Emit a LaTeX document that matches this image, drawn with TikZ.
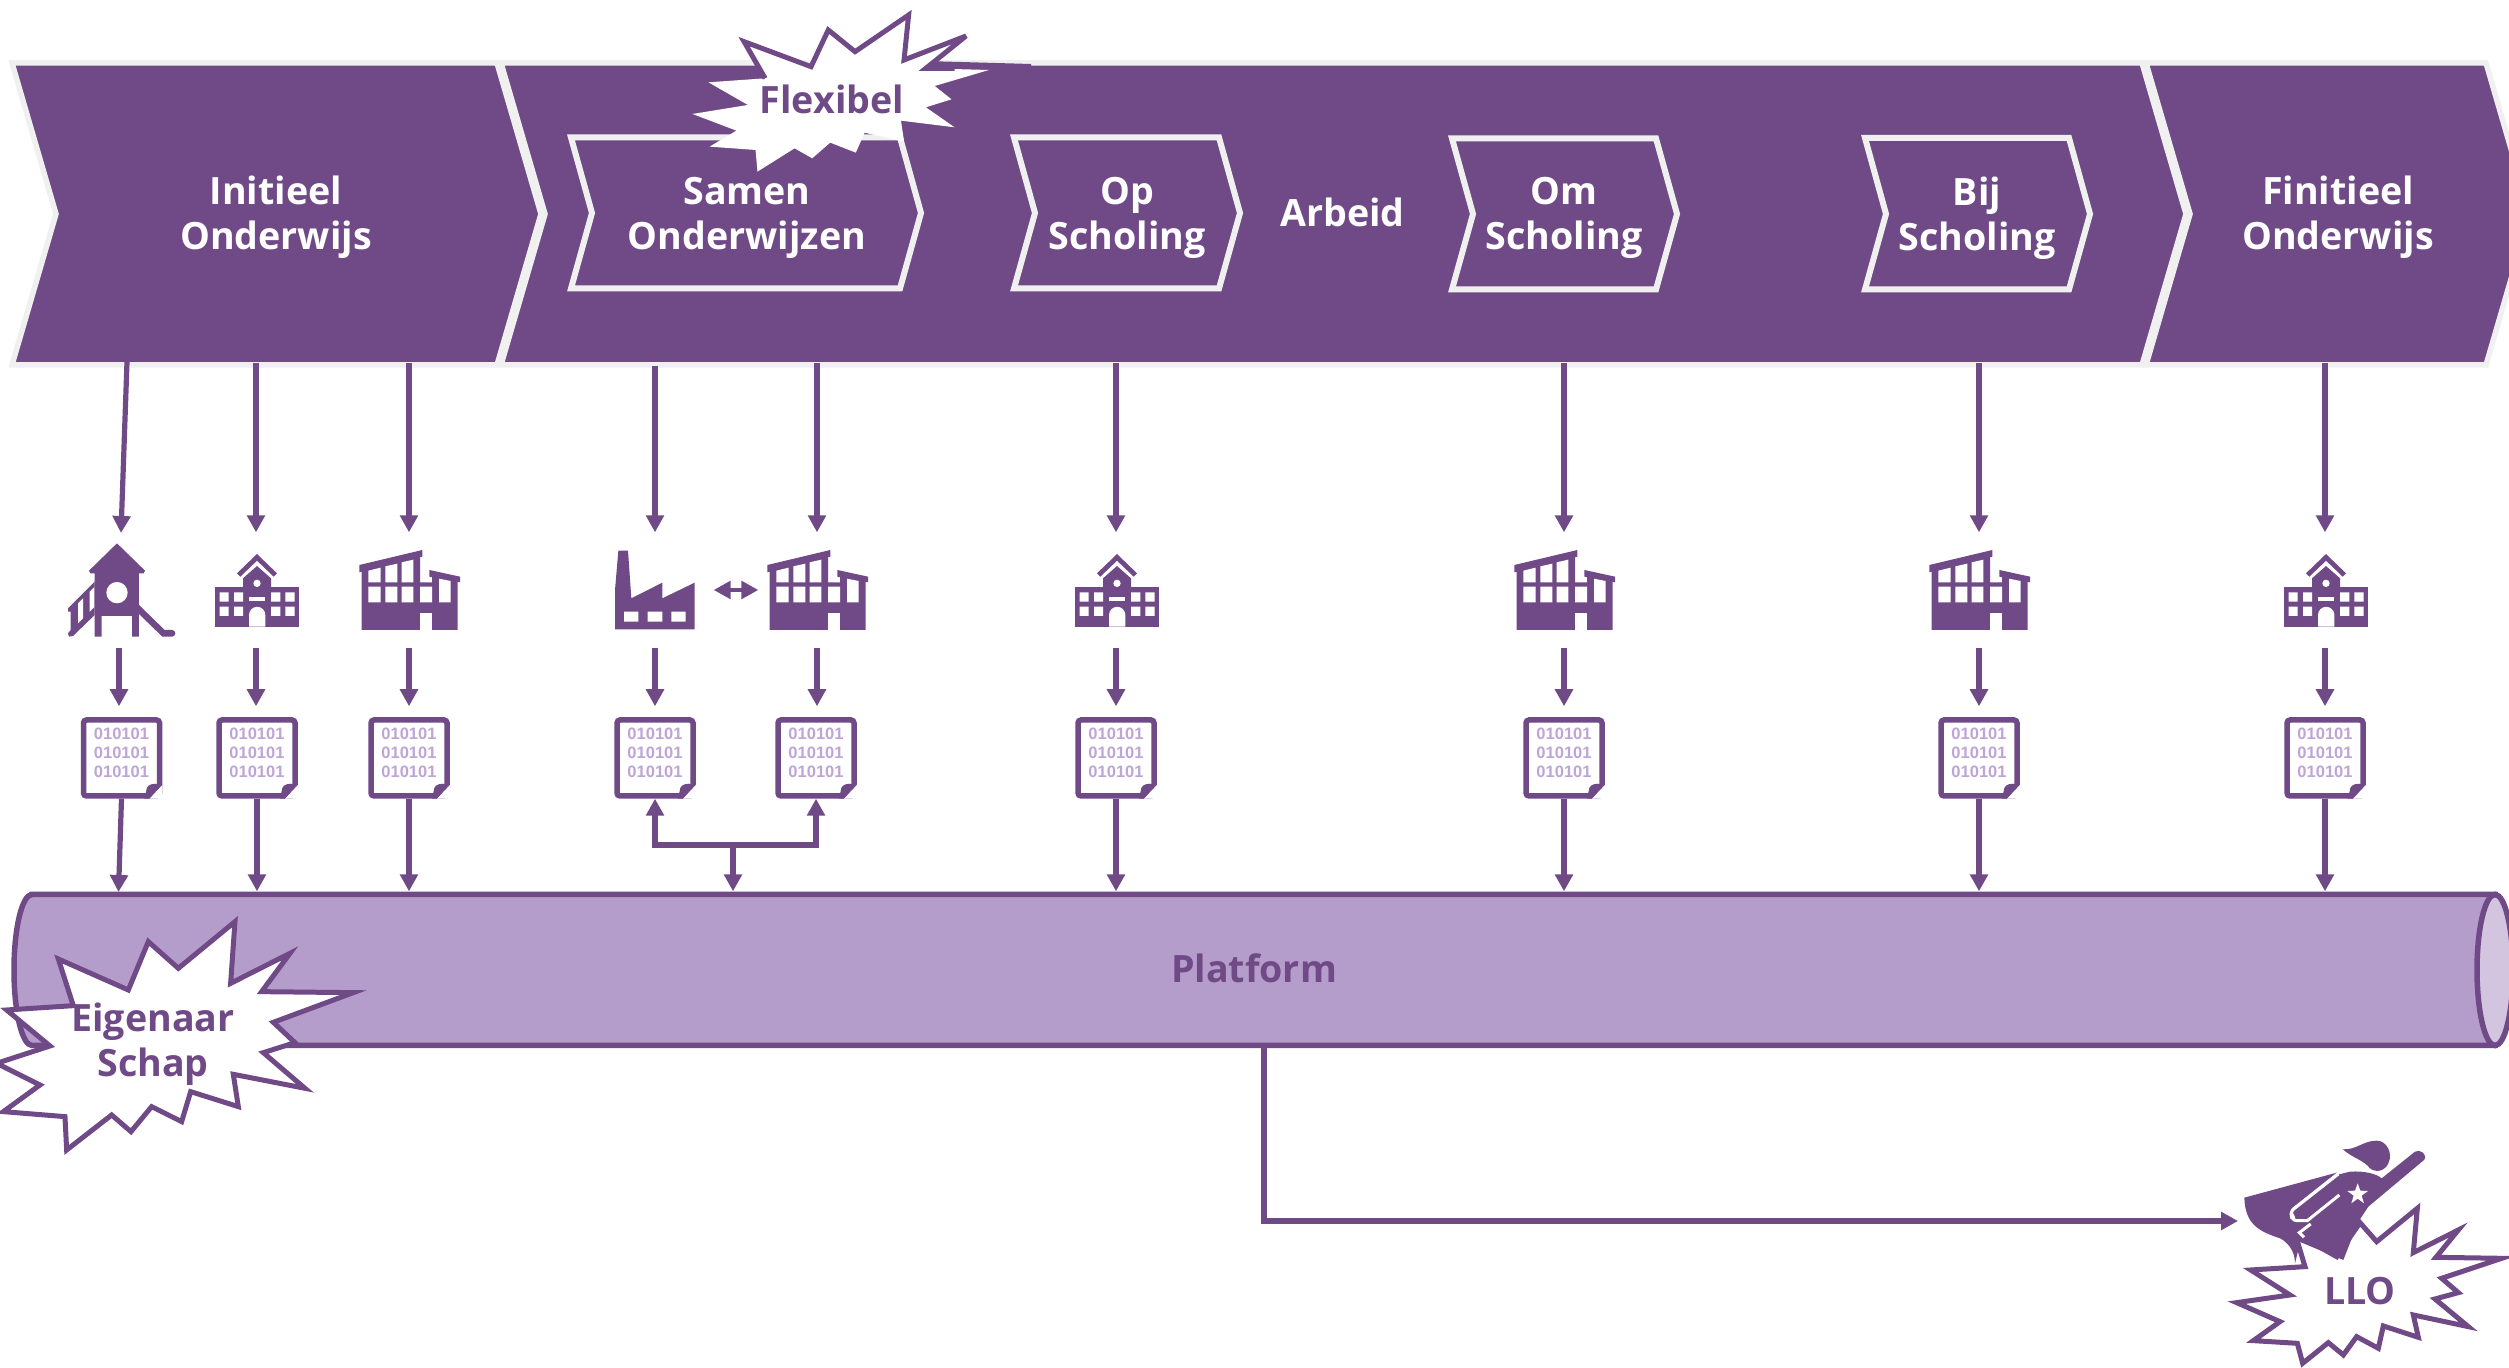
\documentclass[tikz,border=0pt]{standalone}
\usepackage{fontspec}
\setmainfont{Open Sans}
\newfontfamily\bitfont{Liberation Sans}
\usetikzlibrary{positioning,calc,arrows.meta}

\definecolor{paars}{HTML}{704A87}
\definecolor{lila}{HTML}{B59DCB}
\definecolor{lichtlila}{HTML}{D3C5E0}
\definecolor{bitlila}{HTML}{BFA5D6}
\definecolor{rand}{HTML}{F0F0F0}
\newcommand{\bits}{010101\\010101\\010101\\[-0.8mm]}

\begin{document}
\begin{tikzpicture}[x=0.1mm,y=-0.1mm,>={Triangle[length=1.7mm,width=1.75mm]}]
 \useasboundingbox (0,0) rectangle (2509,1368);
 \clip (0,0) rectangle (2509,1368);

\tikzstyle{chevron}=[fill=paars,draw=rand,line width=0.55mm,miter limit=10]
\tikzstyle{deelpijl}=[draw=rand,line width=0.6mm]
\tikzstyle{kop}=[text=white,font=\bfseries\fontsize{10.7}{12.8}\selectfont,align=center,inner sep=0]
\tikzstyle{paarskop}=[kop,text=paars]
\tikzstyle{pijl}=[draw=paars,line width=0.52mm]
\tikzstyle{iconbox}=[minimum width=1.16cm,minimum height=1.14cm,inner sep=0]
\tikzstyle{datafile}=[draw=paars,fill=white,line width=0.55mm,rounded corners=0.3mm,minimum width=7.6mm,minimum height=7.6mm,inner sep=0,text=bitlila,align=center,font=\bitfont\bfseries\fontsize{4.7}{5.45}\selectfont]
\tikzstyle{burst}=[draw=paars,fill=white,line width=0.5mm,line join=miter,miter limit=6]

\tikzset{
 school/.pic={
  \begin{scope}[scale=0.3333,shift={(-647,-180)}]
   \fill[paars] (523,170) rectangle (777,290);
   \fill[paars] (608,172) -- (608,145) -- (650,108) -- (692,145) -- (692,172) -- cycle;
   \fill[paars] (590,130) -- (650,72) -- (710,130) -- (700,140) -- (650,92) -- (600,140) -- cycle;
   \fill[white] (650,160) circle (11);
   \fill[white] (538,187) rectangle (565,215) (581,187) rectangle (608,215) (538,230) rectangle (565,258) (581,230) rectangle (608,258);
   \fill[white] (692,187) rectangle (720,215) (735,187) rectangle (763,215) (692,230) rectangle (720,258) (735,230) rectangle (763,258);
   \fill[white] (627,202) rectangle (675,214);
   \fill[white] (626,290) -- (626,255) arc[start angle=180,end angle=360,radius=24.5] -- (675,290) -- cycle;
  \end{scope}
 },
 campus/.pic={
  \begin{scope}[scale=0.3333,shift={(-1107,-180)}]
   \fill[paars] (965,115) -- (1140,75) -- (1140,157) -- (1176,157) -- (1176,130) -- (1253,148) -- (1253,300) -- (965,300) -- cycle;
   \fill[paars] (958,105) -- (1147,60) -- (1147,80) -- (958,127) -- cycle;
   \fill[paars] (1168,120) -- (1260,140) -- (1260,157) -- (1168,140) -- cycle;
   \fill[white] (985,122) -- (1022,113) -- (1022,157) -- (985,157) -- cycle;
   \fill[white] (1036,109) -- (1072,101) -- (1072,157) -- (1036,157) -- cycle;
   \fill[white] (1085,97) -- (1120,89) -- (1120,157) -- (1085,157) -- cycle;
   \fill[white] (985,170) rectangle (1022,217) (1036,170) rectangle (1072,217) (1085,170) rectangle (1120,217) (1140,170) rectangle (1176,217);
   \fill[white] (1197,146) -- (1232,153) -- (1232,217) -- (1197,217) -- cycle;
   \fill[white] (1140,250) rectangle (1176,300);
  \end{scope}
 },
 fabriek/.pic={
  \begin{scope}[scale=0.3333,shift={(-168,-150)}]
   \fill[paars] (48,268) -- (48,150) -- (58,32) -- (87,32) -- (97,175) -- (190,128) -- (190,175) -- (287,128) -- (287,268) -- cycle;
   \fill[white] (75,215) rectangle (118,245) (146,215) rectangle (190,245) (217,215) rectangle (260,245);
  \end{scope}
 },
 speeltoren/.pic={
  \begin{scope}[scale=0.3333,shift={(-232,-180)}]
   \fill[paars] (232,40) -- (316,122) -- (312,130) -- (298,130) -- (298,258) -- (277,258) -- (277,320) -- (298,320) -- (298,258) -- (186,258) -- (186,320) -- (165,320) -- (165,130) -- (152,130) -- (148,122) -- cycle;
   \fill[paars] (298,225) -- (375,300) -- (398,300) .. controls (410,302) and (410,318) .. (398,320) -- (368,320) -- (298,252) -- cycle;
   \fill[paars] (165,155) -- (165,255) -- (100,318) -- (88,320) -- (85,310) -- (93,300) -- (93,245) -- (85,245) -- (85,235) -- cycle;
   \fill[white] (115,220) -- (130,205) -- (130,265) -- (115,280) -- cycle;
   \fill[white] (150,185) -- (163,172) -- (163,232) -- (150,245) -- cycle;
   \fill[white] (232,188) circle (32);
  \end{scope}
 },
 ezelsoor/.pic={
  \fill[white] (0,0) -- (-13,0) -- (0,-14) -- cycle;
  \fill[paars] (-13,0) -- (0,-14) -- (-7,-15) .. controls (-13,-15) and (-16,-12) .. (-16,-8) -- (-18,0) -- cycle;
 }
}

   %draw banner
    \node (balk) at (1254,214) [minimum width=25.09cm,minimum height=2.96cm] {};
    \draw[chevron] (12,63) -- (497,63) -- (541,214) -- (497,365) -- (12,365) -- (56,214) -- cycle;
    \draw[chevron] (501,63) -- (2142,63) -- (2186,214) -- (2142,365) -- (501,365) -- (545,214) -- cycle;
    \draw[chevron] (2146,63) -- (2486,63) -- (2530,214) -- (2486,365) -- (2146,365) -- (2190,214) -- cycle;
    \fill[paars] (925,66) -- (925,61) -- (1031,64) -- (1031,66) -- cycle;

   %steps in the banner
    \draw[deelpijl] (571,137.5) -- (900,137.5) -- (921,213) -- (900,288.5) -- (571,288.5) -- (592,213) -- cycle;
    \draw[deelpijl] (1014,137.5) -- (1219,137.5) -- (1240,213) -- (1219,288.5) -- (1014,288.5) -- (1035,213) -- cycle;
    \draw[deelpijl] (1452,138.5) -- (1656,138.5) -- (1677,214) -- (1656,289.5) -- (1452,289.5) -- (1473,214) -- cycle;
    \draw[deelpijl] (1865,138) -- (2069,138) -- (2090,214) -- (2069,289.5) -- (1865,289.5) -- (1886,214) -- cycle;

    \node (initieel) at (276,217) [kop] {Initieel\\Onderwijs};
    \node (samen) at (747,218) [kop] {Samen\\Onderwijzen};
    \node (op) at (1127,218) [kop] {Op\\Scholing};
    \node (arbeid) at (1342.5,212.5) [kop] {Arbeid};
    \node (om) at (1564,218) [kop] {Om\\Scholing};
    \node (bij) at (1977,218) [kop] {Bij\\Scholing};
    \node (finitieel) at (2338,217) [kop] {Finitieel\\Onderwijs};

   %icons
    \node (icon1) [iconbox] at (119,590) {};
    \node (icon2) [iconbox] at (256,590) {};
    \node (icon3) [iconbox] at (409,590) {};
    \node (icon4) [iconbox] at (655,590) {};
    \node (icon5) [iconbox] at (817,590) {};
    \node (icon6) [iconbox] at (1116,590) {};
    \node (icon7) [iconbox] at (1564,590) {};
    \node (icon8) [iconbox] at (1979,590) {};
    \node (icon9) [iconbox] at (2325,590) {};
    \pic at (117,590) {speeltoren};
    \pic at (icon2) {school};
    \pic at (icon3) {campus};
    \pic at (icon4) {fabriek};
    \pic at (icon5) {campus};
    \pic at (icon6) {school};
    \pic at (icon7) {campus};
    \pic at (icon8) {campus};
    \pic at (icon9) {school};

   %data files
    \node (file1) [datafile] at (121.5,758) {\bits};
    \node (file2) [datafile] at (257,758) {\bits};
    \node (file3) [datafile] at (409,758) {\bits};
    \node (file4) [datafile] at (655,758) {\bits};
    \node (file5) [datafile] at (816,758) {\bits};
    \node (file6) [datafile] at (1116,758) {\bits};
    \node (file7) [datafile] at (1564,758) {\bits};
    \node (file8) [datafile] at (1979,758) {\bits};
    \node (file9) [datafile] at (2325,758) {\bits};
    \pic at (file1.south east) {ezelsoor};
    \pic at (file2.south east) {ezelsoor};
    \pic at (file3.south east) {ezelsoor};
    \pic at (file4.south east) {ezelsoor};
    \pic at (file5.south east) {ezelsoor};
    \pic at (file6.south east) {ezelsoor};
    \pic at (file7.south east) {ezelsoor};
    \pic at (file8.south east) {ezelsoor};
    \pic at (file9.south east) {ezelsoor};

   %platform pipe
    \draw[draw=paars,fill=lila,line width=0.55mm] (32,894.5) -- (2495,894.5) -- (2495,1045.5) -- (32,1045.5) arc[start angle=90,end angle=270,x radius=18,y radius=75.5] -- cycle;
    \draw[draw=paars,fill=lichtlila,line width=0.55mm] (2495,970) ellipse [x radius=18,y radius=75.5];
    \node (pipe) at (1254,968.5) [paarskop,minimum height=1.53cm] {Platform};

   %arrows from banner to icons
    \coordinate (start1) at (127,362);
    \draw[pijl,->] (start1) -- (121,533);
    \draw[pijl,->] (icon2.north |- balk.south) -- (icon2.north);
    \draw[pijl,->] (icon3.north |- balk.south) -- (icon3.north);
    \draw[pijl,->,shorten <=0.3mm] (icon4.north |- balk.south) -- (icon4.north);
    \draw[pijl,->] (icon5.north |- balk.south) -- (icon5.north);
    \draw[pijl,->] (icon6.north |- balk.south) -- (icon6.north);
    \draw[pijl,->] (icon7.north |- balk.south) -- (icon7.north);
    \draw[pijl,->] (icon8.north |- balk.south) -- (icon8.north);
    \draw[pijl,->] (icon9.north |- balk.south) -- (icon9.north);

   %arrows from icons to files
    \draw[pijl,->,shorten >=1.1mm] (icon1.south) -- (icon1.south |- file1.north);
    \draw[pijl,->,shorten >=1.1mm] (icon2.south) -- (icon2.south |- file2.north);
    \draw[pijl,->,shorten >=1.1mm] (icon3.south) -- (icon3.south |- file3.north);
    \draw[pijl,->,shorten >=1.1mm] (icon4.south) -- (icon4.south |- file4.north);
    \draw[pijl,->,shorten >=1.1mm] (icon5.south) -- (icon5.south |- file5.north);
    \draw[pijl,->,shorten >=1.1mm] (icon6.south) -- (icon6.south |- file6.north);
    \draw[pijl,->,shorten >=1.1mm] (icon7.south) -- (icon7.south |- file7.north);
    \draw[pijl,->,shorten >=1.1mm] (icon8.south) -- (icon8.south |- file8.north);
    \draw[pijl,->,shorten >=1.1mm] (icon9.south) -- (icon9.south |- file9.north);
    \draw[pijl,<->,line width=0.45mm] (icon4.east) -- (icon5.west);

   %arrows from files to pipe
    \coordinate (in1) at (118.5,892);
    \coordinate (splitsing) at (733,845);
    \draw[pijl,->] (file1.south) -- (in1);
    \draw[pijl,->] (file2.south) -- (file2.south |- pipe.north);
    \draw[pijl,->] (file3.south) -- (file3.south |- pipe.north);
    \draw[pijl,<->] (file4.south) |- (splitsing) -| (file5.south);
    \draw[pijl,->] (splitsing) -- (splitsing |- pipe.north);
    \draw[pijl,->] (file6.south) -- (file6.south |- pipe.north);
    \draw[pijl,->] (file7.south) -- (file7.south |- pipe.north);
    \draw[pijl,->] (file8.south) -- (file8.south |- pipe.north);
    \draw[pijl,->] (file9.south) -- (file9.south |- pipe.north);

   %bursts
    \begin{scope}[shift={(480,0)},xscale=0.3827,yscale=0.3333]
     \fill[white] (690,125) -- (865,200) -- (910,90) -- (980,155) -- (1120,45) -- (1108,180) -- (1270,108) -- (1165,205) -- (1330,210) -- (1188,258) -- (1232,298) -- (1165,322) -- (1240,382) -- (1100,362) -- (1108,425) -- (1005,398) -- (982,458) -- (915,428) -- (868,475) -- (822,445) -- (725,515) -- (720,450) -- (600,440) -- (670,392) -- (555,342) -- (700,315) -- (597,247) -- (745,235) -- cycle;
     \draw[burst,fill=none] (745,235) -- (690,125) -- (865,200) -- (910,90) -- (980,155) -- (1120,45) -- (1108,180) -- (1270,108) -- (1165,205) -- (1240,205);
    \end{scope}
    \node (flexibel) at (832,99.5) [paarskop] {Flexibel};

    \begin{scope}[shift={(0,860)},scale=0.3333]
     \draw[burst] (175,297) -- (385,390) -- (445,245) -- (535,325) -- (705,185) -- (692,370) -- (870,280) -- (785,395) -- (1060,398) -- (820,487) -- (885,548) -- (790,578) -- (915,685) -- (700,643) -- (715,740) -- (572,695) -- (545,785) -- (455,740) -- (393,815) -- (335,765) -- (200,870) -- (195,770) -- (10,755) -- (120,675) -- (-10,610) -- (150,558) -- (20,450) -- (220,437) -- cycle;
    \end{scope}
    \node (eigenaar) at (153,1044) [paarskop] {Eigenaar\\Schap};

    \begin{scope}[shift={(2180,1100)},scale=0.3333]
     \draw[burst] (212,510) -- (375,500) -- (345,400) -- (470,470) -- (540,368) -- (590,425) -- (712,325) -- (700,458) -- (835,390) -- (768,472) -- (965,475) -- (785,535) -- (835,578) -- (765,597) -- (865,680) -- (700,645) -- (715,712) -- (610,678) -- (595,745) -- (530,710) -- (490,765) -- (445,728) -- (368,790) -- (352,730) -- (220,722) -- (300,665) -- (170,608) -- (330,585) -- cycle;
    \end{scope}
    \node (llo) at (2360,1291) [paarskop] {LLO};

   %hero at the end of the line
    \node (held) [anchor=west,minimum width=9mm,minimum height=9mm,inner sep=0] at (2238,1221) {};
    \begin{scope}[shift={(2180,1100)},scale=0.3333]
     \fill[paars] (193,293) -- (470,218) -- (335,325) .. controls (325,345) and (330,365) .. (365,372) -- (352,400) -- (360,430) -- (345,490) .. controls (345,450) and (320,425) .. (300,415) .. controls (240,395) and (195,375) .. (193,293) -- cycle;
     \fill[paars] (488,148) .. controls (530,150) and (550,122) .. (590,122) .. controls (620,122) and (640,160) .. (625,190) .. controls (615,212) and (590,220) .. (570,205) .. controls (550,180) and (520,175) .. (488,148) -- cycle;
     \fill[paars] (510,215) .. controls (555,212) and (590,222) .. (605,235) -- (705,155) .. controls (720,145) and (745,165) .. (732,180) -- (565,320) -- (535,365) -- (490,480) -- (358,425) -- (345,350) -- (335,330) -- (470,225) -- cycle;
     \draw[white,line width=0.3mm] (475,222) -- (340,328) .. controls (325,345) and (335,365) .. (358,362) -- (382,362) -- (478,285);
     \draw[white,line width=0.3mm] (392,372) -- (358,398) -- (372,412);
     \fill[white] (533,250) -- (541,272) -- (564,273) -- (545,287) -- (552,310) -- (533,296) -- (514,310) -- (521,287) -- (502,273) -- (525,272) -- cycle;
    \end{scope}

   %line from pipe to hero
    \coordinate (uit) at ($(pipe.south)+(10,-3)$);
    \draw[pijl,->] (uit) |- (held.west);

\end{tikzpicture}
\end{document}
